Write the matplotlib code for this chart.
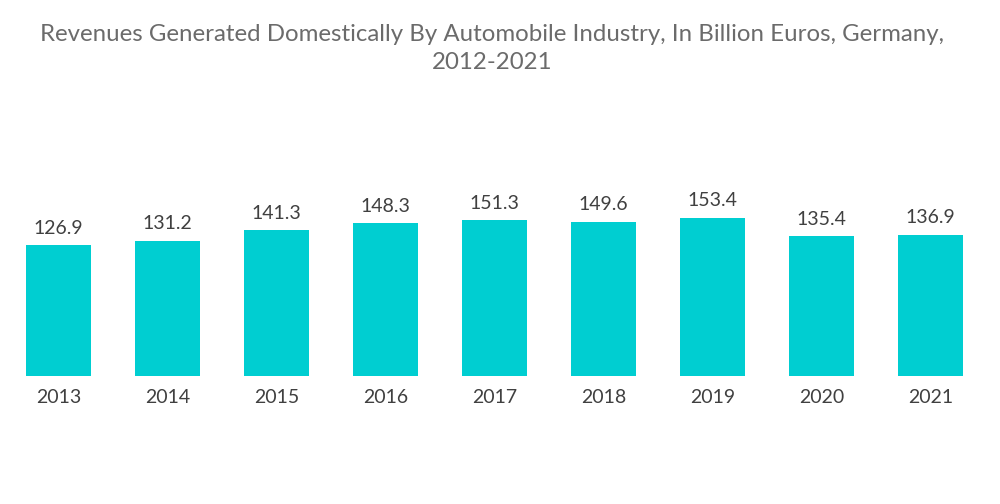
import matplotlib
matplotlib.use("Agg")
import matplotlib.pyplot as plt

years = ["2013", "2014", "2015", "2016", "2017", "2018", "2019", "2020", "2021"]
revenues = [126.9, 131.2, 141.3, 148.3, 151.3, 149.6, 153.4, 135.4, 136.9]

plt.rcParams['font.family'] = ['Lato', 'DejaVu Sans']

fig = plt.figure(figsize=(10, 5.04), dpi=100)
ax = fig.add_axes([0.004, 0.254, 0.981, 0.3276])
x = list(range(len(years)))
bars = ax.bar(x, revenues, width=0.6, color="#00CED1")
ax.set_xlim(-0.5, len(years) - 0.5)
ax.set_ylim(0, 160)
for xi, v in zip(x, revenues):
    ax.annotate(f"{v:.1f}", (xi, v), xytext=(0, 6), textcoords="offset points",
                ha="center", va="bottom", fontsize=14, color="#404040")
ax.set_xticks(x)
ax.set_xticklabels(years, fontsize=14, color="#404040")
ax.tick_params(axis="x", length=0, pad=9.5)
ax.set_yticks([])
for s in ax.spines.values():
    s.set_visible(False)

fig.text(0.492, 0.904, "Revenues Generated Domestically By Automobile Industry, In Billion Euros, Germany,\n2012-2021",
         ha="center", va="center", fontsize=17.3, color="#6b6b6b", linespacing=1.45)

fig.savefig("out.png", dpi=100)
